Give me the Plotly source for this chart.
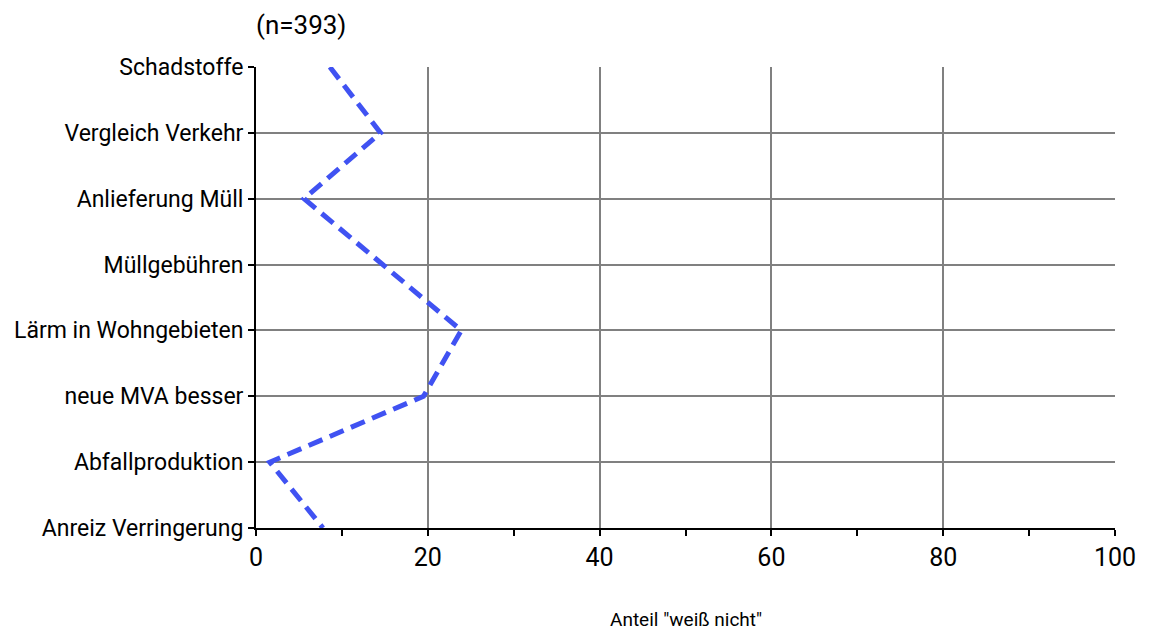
import plotly.graph_objects as go

categories = ["Schadstoffe", "Vergleich Verkehr", "Anlieferung Müll", "Müllgebühren",
              "Lärm in Wohngebieten", "neue MVA besser", "Abfallproduktion", "Anreiz Verringerung"]
values = [8.6, 14.5, 5.6, 14.7, 23.9, 19.5, 1.6, 7.8]
x_ticks = [0, 20, 40, 60, 80, 100]

FONT = "Roboto, sans-serif"

fig = go.Figure()
fig.add_trace(go.Scatter(
    x=values, y=categories, mode="lines",
    line=dict(color="#4052F2", width=5, dash="15px,8px"),
    hoverinfo="x+y", showlegend=False,
))

fig.update_layout(
    width=1151, height=630,
    margin=dict(l=248, r=44, t=59, b=110),
    paper_bgcolor="white", plot_bgcolor="white",
    font=dict(family=FONT, size=20, color="black"),
    xaxis=dict(
        range=[0, 100], tickvals=x_ticks, ticktext=[str(v) for v in x_ticks],
        showgrid=True, gridcolor="#808080", gridwidth=2,
        showline=True, linecolor="black", linewidth=2,
        ticks="outside", ticklen=6, tickwidth=2, tickcolor="black",
        minor=dict(tickvals=[10, 30, 50, 70, 90], ticks="outside", ticklen=6,
                   tickwidth=2, tickcolor="black", showgrid=False),
        zeroline=False, tickfont=dict(size=25, family=FONT),
        automargin=False, fixedrange=True,
    ),
    yaxis=dict(
        type="category", categoryorder="array", categoryarray=categories[::-1],
        range=[0, 7],
        showgrid=True, gridcolor="#808080", gridwidth=2,
        showline=True, linecolor="black", linewidth=2,
        ticks="outside", ticklen=6, tickwidth=2, tickcolor="black",
        zeroline=False, tickfont=dict(size=23, family=FONT),
        automargin=False, fixedrange=True,
    ),
    annotations=[
        dict(text="(n=393)", xref="paper", yref="paper", x=0, y=1, xanchor="left",
             yanchor="middle", yshift=42, xshift=-2, showarrow=False,
             font=dict(size=26, family=FONT)),
        dict(text='Anteil "weiß nicht"', xref="paper", yref="paper", x=0.5, y=0,
             xanchor="center", yanchor="middle", yshift=-91, showarrow=False,
             font=dict(size=19, family=FONT)),
    ],
)

fig.write_html("out.html")
